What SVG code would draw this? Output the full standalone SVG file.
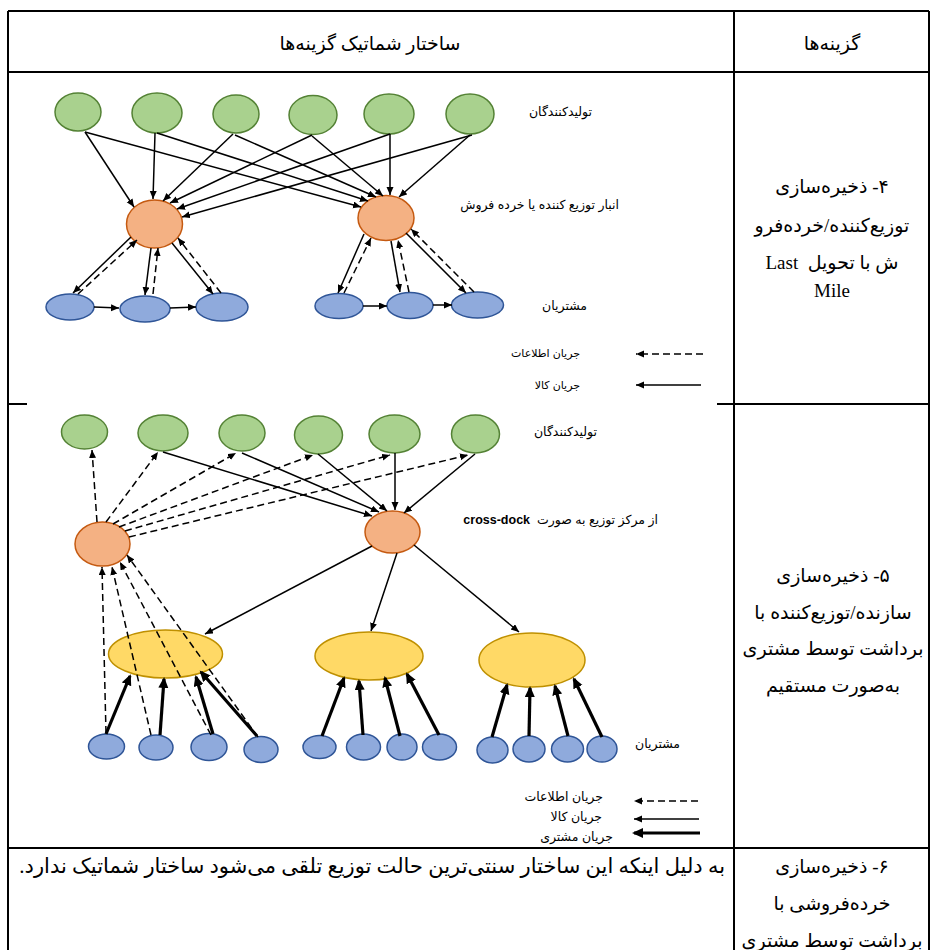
<svg xmlns="http://www.w3.org/2000/svg" width="936" height="950" viewBox="0 0 936 950">
<style>
.g{fill:#a9d18e;stroke:#548235;stroke-width:1.5}
.o{fill:#f4b183;stroke:#c55a11;stroke-width:1.5}
.b{fill:#8faadc;stroke:#2f5597;stroke-width:1.5}
.y{fill:#ffd966;stroke:#bf9000;stroke-width:1.5}
.s{stroke:#000;stroke-width:1.5;fill:none;marker-end:url(#a)}
.d{stroke:#000;stroke-width:1.5;fill:none;stroke-dasharray:7,4;marker-end:url(#a)}
.t{stroke:#000;stroke-width:3.2;fill:none;marker-end:url(#h)}
.grid{stroke:#000;stroke-width:2;fill:none}
.lbl{font-family:'Liberation Sans','DejaVu Sans',sans-serif;font-size:12.5px;fill:#000}
.lg1{font-family:'Liberation Sans','DejaVu Sans',sans-serif;font-size:11px;fill:#000}
.cell{font-family:'Liberation Serif','DejaVu Sans',serif;font-size:19px;fill:#000}
</style>
<defs>
<marker id="a" markerUnits="userSpaceOnUse" markerWidth="9" markerHeight="8" refX="8" refY="3.5" orient="auto"><path d="M0,0 L8,3.5 L0,7 z" fill="#000"/></marker>
<marker id="h" markerUnits="userSpaceOnUse" markerWidth="12" markerHeight="11" refX="9" refY="5" orient="auto"><path d="M0,0 L11,5 L0,10 z" fill="#000"/></marker>
</defs>

<g id="table">
<line class="grid" x1="8" y1="11" x2="929" y2="11"/>
<line class="grid" x1="8" y1="72" x2="929" y2="72"/>
<line class="grid" x1="8" y1="11" x2="8" y2="950"/>
<line class="grid" x1="929" y1="11" x2="929" y2="950"/>
<line class="grid" x1="734" y1="11" x2="734" y2="950"/>
<line class="grid" x1="717" y1="404" x2="929" y2="404"/>
<line class="grid" x1="8" y1="404" x2="27" y2="404"/>
<line class="grid" x1="8" y1="848" x2="929" y2="848"/>
</g>

<g id="header">
<text class="cell" x="370" y="50" text-anchor="middle" direction="rtl">ساختار شماتیک گزینه&#x200C;ها</text>
<text class="cell" x="832" y="50" text-anchor="middle" direction="rtl">گزینه&#x200C;ها</text>
</g>

<g id="option4-text">
<text class="cell" x="832" y="193" text-anchor="middle" direction="rtl">۴- ذخیره&#x200C;سازی</text>
<text class="cell" x="832" y="232" text-anchor="middle" direction="rtl">توزیع&#x200C;کننده/خرده&#x200C;فرو</text>
<text class="cell" x="832" y="269" text-anchor="middle" direction="rtl" xml:space="preserve">ش با تحویل  Last</text>
<text class="cell" x="832" y="297" text-anchor="middle">Mile</text>
</g>

<g id="option5-text">
<text class="cell" x="833" y="582" text-anchor="middle" direction="rtl">۵- ذخیره&#x200C;سازی</text>
<text class="cell" x="833" y="619" text-anchor="middle" direction="rtl">سازنده/توزیع&#x200C;کننده با</text>
<text class="cell" x="833" y="655" text-anchor="middle" direction="rtl">برداشت توسط مشتری</text>
<text class="cell" x="833" y="692" text-anchor="middle" direction="rtl">به&#x200C;صورت مستقیم</text>
</g>

<g id="option6-text">
<text class="cell" x="832" y="873" text-anchor="middle" direction="rtl">۶- ذخیره&#x200C;سازی</text>
<text class="cell" x="832" y="910" text-anchor="middle" direction="rtl">خرده&#x200C;فروشی با</text>
<text class="cell" x="832" y="947" text-anchor="middle" direction="rtl">برداشت توسط مشتری</text>
<text class="cell" x="725" y="873" text-anchor="start" direction="rtl" style="font-size:21px">به دلیل اینکه این ساختار سنتی&#x200C;ترین حالت توزیع تلقی می&#x200C;شود ساختار شماتیک ندارد.</text>
</g>

<!-- Diagram 1 nodes -->
<g id="d1-producers">
<ellipse class="g" cx="78" cy="112" rx="23" ry="19"/>
<ellipse class="g" cx="157" cy="113" rx="25" ry="20"/>
<ellipse class="g" cx="236" cy="114" rx="23" ry="19"/>
<ellipse class="g" cx="313" cy="115" rx="24" ry="19.5"/>
<ellipse class="g" cx="389" cy="114" rx="25" ry="20"/>
<ellipse class="g" cx="470" cy="114" rx="24" ry="20"/>
<text class="lbl" x="592" y="116" text-anchor="start" direction="rtl">تولیدکنندگان</text>
</g>
<g id="d1-warehouses">
<ellipse class="o" cx="154.5" cy="224" rx="28" ry="24"/>
<ellipse class="o" cx="386" cy="218" rx="28" ry="22.5"/>
<text class="lbl" x="619" y="209" text-anchor="start" direction="rtl">انبار توزیع کننده یا خرده فروش</text>
</g>
<g id="d1-customers">
<ellipse class="b" cx="70" cy="307" rx="24" ry="13"/>
<ellipse class="b" cx="145" cy="309" rx="25" ry="13"/>
<ellipse class="b" cx="222" cy="307" rx="26" ry="14"/>
<ellipse class="b" cx="339" cy="306" rx="24" ry="12.5"/>
<ellipse class="b" cx="410" cy="305.5" rx="23" ry="13"/>
<ellipse class="b" cx="477.5" cy="305" rx="26" ry="13"/>
<text class="lbl" x="587" y="310" text-anchor="start" direction="rtl">مشتریان</text>
</g>
<g id="d1-legend">
<text class="lg1" x="580" y="357" text-anchor="start" direction="rtl">جریان اطلاعات</text>
<text class="lg1" x="580" y="389" text-anchor="start" direction="rtl">جریان کالا</text>
</g>

<g id="d1-connectors">
<line class="s" x1="85" y1="132" x2="134" y2="207"/>
<line class="s" x1="155" y1="133" x2="153" y2="199"/>
<line class="s" x1="233" y1="134" x2="163" y2="201"/>
<line class="s" x1="312" y1="135" x2="170" y2="203"/>
<line class="s" x1="390" y1="134" x2="177" y2="209"/>
<line class="s" x1="472" y1="135" x2="182" y2="217"/>
<line class="s" x1="85" y1="132" x2="361" y2="207"/>
<line class="s" x1="157" y1="133" x2="368" y2="201"/>
<line class="s" x1="235" y1="135" x2="376" y2="197"/>
<line class="s" x1="312" y1="136" x2="383" y2="196"/>
<line class="s" x1="390" y1="134" x2="390" y2="195"/>
<line class="s" x1="470" y1="135" x2="399" y2="197"/>
<line class="s" x1="131" y1="237" x2="73" y2="293"/>
<line class="d" x1="78" y1="294" x2="137" y2="240"/>
<line class="s" x1="151" y1="248" x2="145" y2="295"/>
<line class="d" x1="153" y1="294" x2="158" y2="248"/>
<line class="s" x1="172" y1="243" x2="213" y2="294"/>
<line class="d" x1="221" y1="293" x2="178" y2="238"/>
<line class="s" x1="364" y1="234" x2="338" y2="293"/>
<line class="d" x1="344" y1="293" x2="371" y2="238"/>
<line class="s" x1="391" y1="241" x2="400" y2="292"/>
<line class="d" x1="409" y1="292" x2="398" y2="240"/>
<line class="s" x1="406" y1="233" x2="466" y2="293"/>
<line class="d" x1="474" y1="292" x2="411" y2="229"/>
<line class="s" x1="94" y1="307" x2="119" y2="308"/>
<line class="s" x1="170" y1="308" x2="196" y2="307"/>
<line class="s" x1="363" y1="306" x2="387" y2="306"/>
<line class="s" x1="433" y1="305" x2="452" y2="305"/>
<line class="d" x1="703" y1="354" x2="636" y2="354"/>
<line class="s" x1="701" y1="385" x2="636" y2="385"/>
</g>

<!-- Diagram 2 nodes -->
<g id="d2-producers">
<ellipse class="g" cx="84.5" cy="432" rx="23" ry="17"/>
<ellipse class="g" cx="163" cy="433" rx="25" ry="18"/>
<ellipse class="g" cx="242" cy="433" rx="23" ry="18"/>
<ellipse class="g" cx="318.5" cy="435" rx="24" ry="19"/>
<ellipse class="g" cx="394.5" cy="434" rx="25.5" ry="19"/>
<ellipse class="g" cx="475.5" cy="434" rx="24" ry="19"/>
<text class="lbl" x="597" y="436" text-anchor="start" direction="rtl">تولیدکنندگان</text>
</g>
<g id="d2-centers">
<ellipse class="o" cx="102.5" cy="544" rx="27.5" ry="22"/>
<ellipse class="o" cx="392.5" cy="532" rx="27.5" ry="21"/>
<text class="lbl" x="658" y="524" text-anchor="start" direction="rtl" xml:space="preserve">از مرکز توزیع به صورت  <tspan font-weight="bold">cross-dock</tspan></text>
</g>
<g id="d2-pickup">
<ellipse class="y" cx="165.5" cy="654" rx="57" ry="24"/>
<ellipse class="y" cx="369" cy="656" rx="54" ry="24"/>
<ellipse class="y" cx="532" cy="660" rx="53" ry="27"/>
</g>
<g id="d2-customers">
<ellipse class="b" cx="106.5" cy="746.5" rx="18" ry="12.5"/>
<ellipse class="b" cx="156" cy="747.5" rx="17" ry="12.5"/>
<ellipse class="b" cx="209" cy="747" rx="18" ry="13.5"/>
<ellipse class="b" cx="261" cy="749.5" rx="17" ry="13"/>
<ellipse class="b" cx="319.5" cy="747" rx="16.5" ry="11.5"/>
<ellipse class="b" cx="363.5" cy="747" rx="17" ry="13"/>
<ellipse class="b" cx="402" cy="747" rx="15" ry="13"/>
<ellipse class="b" cx="439.5" cy="747" rx="17" ry="13"/>
<ellipse class="b" cx="492.5" cy="750" rx="15.5" ry="13"/>
<ellipse class="b" cx="529" cy="749" rx="16" ry="13"/>
<ellipse class="b" cx="567.5" cy="749" rx="16" ry="13"/>
<ellipse class="b" cx="602" cy="749" rx="15" ry="13"/>
<text class="lbl" x="680" y="748" text-anchor="start" direction="rtl">مشتریان</text>
</g>
<g id="d2-legend">
<text class="lbl" x="603" y="801" text-anchor="start" direction="rtl">جریان اطلاعات</text>
<text class="lbl" x="602" y="821" text-anchor="start" direction="rtl">جریان کالا</text>
<text class="lbl" x="613" y="841" text-anchor="start" direction="rtl">جریان مشتری</text>
</g>

<g id="d2-connectors">
<line class="d" x1="97" y1="522" x2="92" y2="450"/>
<line class="d" x1="106" y1="522" x2="158" y2="452"/>
<line class="d" x1="113" y1="524" x2="236" y2="453"/>
<line class="d" x1="119" y1="527" x2="313" y2="455"/>
<line class="d" x1="125" y1="531" x2="390" y2="455"/>
<line class="d" x1="129" y1="537" x2="468" y2="455"/>
<line class="s" x1="163" y1="452" x2="372" y2="516"/>
<line class="s" x1="242" y1="453" x2="379" y2="512"/>
<line class="s" x1="318" y1="454" x2="387" y2="511"/>
<line class="s" x1="395" y1="453" x2="395" y2="510"/>
<line class="s" x1="475" y1="454" x2="404" y2="513"/>
<line class="s" x1="372" y1="546" x2="205" y2="634"/>
<line class="s" x1="397" y1="553" x2="371" y2="631"/>
<line class="s" x1="414" y1="545" x2="519" y2="632"/>
<line class="d" x1="106" y1="733" x2="102" y2="567"/>
<line class="d" x1="151" y1="735" x2="112" y2="567"/>
<line class="d" x1="211" y1="735" x2="120" y2="562"/>
<line class="d" x1="258" y1="737" x2="127" y2="555"/>
<line class="t" x1="106" y1="734" x2="130" y2="676"/>
<line class="t" x1="160" y1="735" x2="164" y2="679"/>
<line class="t" x1="213" y1="734" x2="196" y2="677"/>
<line class="t" x1="257" y1="736" x2="201" y2="672"/>
<line class="t" x1="322" y1="736" x2="344" y2="678"/>
<line class="t" x1="363" y1="735" x2="359" y2="681"/>
<line class="t" x1="400" y1="736" x2="385" y2="678"/>
<line class="t" x1="439" y1="735" x2="407" y2="674"/>
<line class="t" x1="492" y1="737" x2="507" y2="685"/>
<line class="t" x1="529" y1="736" x2="530" y2="688"/>
<line class="t" x1="568" y1="736" x2="555" y2="686"/>
<line class="t" x1="602" y1="737" x2="574" y2="679"/>
<line class="d" x1="698" y1="801" x2="634" y2="801"/>
<line class="s" x1="699" y1="819" x2="634" y2="819"/>
<line class="t" x1="700" y1="833" x2="634" y2="833"/>
</g>
</svg>
